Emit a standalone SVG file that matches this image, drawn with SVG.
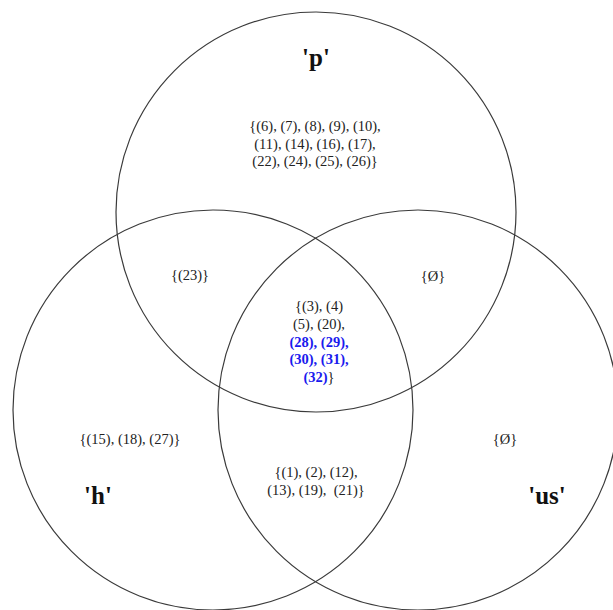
<svg xmlns="http://www.w3.org/2000/svg" width="613" height="610" viewBox="0 0 613 610">
<style>
.c{fill:none;stroke:#3a3a3a;stroke-width:1.2}
.t{font-family:"Liberation Serif","Times New Roman",serif;font-size:14.5px;fill:#222;text-anchor:middle}
.b{font-weight:bold;fill:#1a1aee}
.l{font-family:"Liberation Serif","Times New Roman",serif;font-size:25px;font-weight:bold;fill:#111;text-anchor:middle}
</style>
<rect width="613" height="610" fill="#fff"/>
<g id="set-p">
<circle class="c" cx="316" cy="212" r="200"/>
<text class="l" x="316" y="66">'p'</text>
<text class="t" x="315" y="131">{(6), (7), (8), (9), (10),</text>
<text class="t" x="315" y="149">(11), (14), (16), (17),</text>
<text class="t" x="315" y="166">(22), (24), (25), (26)}</text>
</g>
<g id="set-h">
<circle class="c" cx="213" cy="410" r="200"/>
<text class="l" x="98" y="504">'h'</text>
<text class="t" x="130" y="444">{(15), (18), (27)}</text>
</g>
<g id="set-us">
<circle class="c" cx="418" cy="410" r="200"/>
<text class="l" x="547" y="504">'us'</text>
<text class="t" x="505" y="444">{Ø}</text>
</g>
<g id="region-p-h"><text class="t" x="190" y="280">{(23)}</text></g>
<g id="region-p-us"><text class="t" x="433" y="281">{Ø}</text></g>
<g id="region-h-us">
<text class="t" x="316" y="477">{(1), (2), (12),</text>
<text class="t" x="316" y="495" xml:space="preserve">(13), (19),  (21)}</text>
</g>
<g id="region-all">
<text class="t" x="319" y="311">{(3), (4)</text>
<text class="t" x="319" y="329">(5), (20),</text>
<text class="t b" x="319" y="347">(28), (29),</text>
<text class="t b" x="319" y="364">(30), (31),</text>
<text class="t" x="319" y="382"><tspan class="b">(32)</tspan>}</text>
</g>
</svg>
